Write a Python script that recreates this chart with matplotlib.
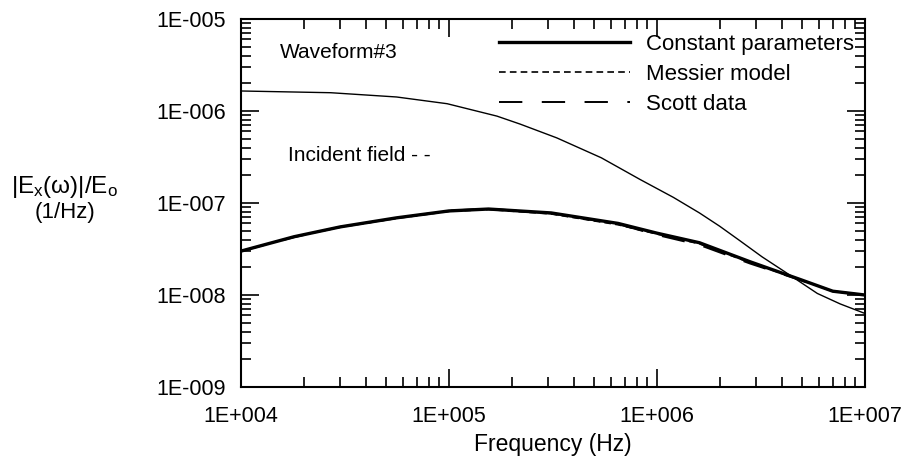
import matplotlib
matplotlib.use("Agg")
import matplotlib.pyplot as plt
from matplotlib.ticker import LogLocator, NullFormatter, FixedLocator

plt.rcParams["font.family"] = ["Liberation Sans", "DejaVu Sans"]
plt.rcParams["mathtext.fontset"] = "custom"
plt.rcParams["mathtext.rm"] = "Liberation Sans"

# frequencies (Hz) and spectra
freq = [1e4, 1.8e4, 3e4, 5.6e4, 1e5, 1.55e5, 3.1e5, 6.5e5, 1e6, 1.6e6, 2.8e6, 4.9e6, 7e6, 1e7]
constant = [3.0e-8, 4.3e-8, 5.5e-8, 6.9e-8, 8.2e-8, 8.6e-8, 7.8e-8, 6.0e-8, 4.7e-8, 3.7e-8, 2.3e-8, 1.47e-8, 1.1e-8, 1.0e-8]
messier = [3.0e-8, 4.3e-8, 5.45e-8, 6.8e-8, 8.1e-8, 8.5e-8, 7.6e-8, 5.8e-8, 4.6e-8, 3.6e-8, 2.25e-8, 1.46e-8, 1.1e-8, 1.0e-8]
scott = [3.0e-8, 4.25e-8, 5.5e-8, 6.85e-8, 8.25e-8, 8.7e-8, 7.7e-8, 5.9e-8, 4.5e-8, 3.5e-8, 2.2e-8, 1.45e-8, 1.1e-8, 1.0e-8]

freq_inc = [1e4, 2.7e4, 5.6e4, 9.8e4, 1.7e5, 2.2e5, 3.3e5, 5.4e5, 8.3e5, 1.2e6, 1.6e6,
            2.0e6, 2.5e6, 3.2e6, 4.1e6, 5.9e6, 7.6e6, 1e7]
incident = [1.65e-6, 1.58e-6, 1.42e-6, 1.2e-6, 8.8e-7, 7.2e-7, 5.1e-7, 3.1e-7, 1.8e-7, 1.15e-7, 7.8e-8,
            5.6e-8, 3.9e-8, 2.6e-8, 1.8e-8, 1.04e-8, 8.0e-9, 6.3e-9]

fig = plt.figure(figsize=(9.11, 4.62), dpi=100)
ax = fig.add_axes([0.2645, 0.1623, 0.6850, 0.7966])

ax.plot(freq_inc, incident, color="black", lw=1.0)
ax.plot(freq, constant, color="black", lw=2.4, label="Constant parameters")
ax.plot(freq, messier, color="black", lw=1.2, ls=(0, (4, 2.5)), label="Messier model")
ax.plot(freq, scott, color="black", lw=1.4, ls=(0, (12, 10)), label="Scott data")

ax.set_xscale("log")
ax.set_yscale("log")
ax.set_xlim(1e4, 1e7)
ax.set_ylim(1e-9, 1e-5)

ax.xaxis.set_major_locator(FixedLocator([1e4, 1e5, 1e6, 1e7]))
ax.yaxis.set_major_locator(FixedLocator([1e-9, 1e-8, 1e-7, 1e-6, 1e-5]))
ax.xaxis.set_minor_locator(LogLocator(base=10, subs=range(2, 10)))
ax.yaxis.set_minor_locator(LogLocator(base=10, subs=range(2, 10)))
ax.xaxis.set_minor_formatter(NullFormatter())
ax.yaxis.set_minor_formatter(NullFormatter())
ax.set_xticklabels(["1E+004", "1E+005", "1E+006", "1E+007"])
ax.set_yticklabels(["1E-009", "1E-008", "1E-007", "1E-006", "1E-005"])

ax.tick_params(which="both", direction="in", top=True, right=True, labelsize=15.5, width=1.2)
ax.tick_params(which="major", length=13)
ax.tick_params(which="minor", length=7)
ax.tick_params(axis="x", which="major", pad=14)
ax.tick_params(axis="y", which="major", pad=11)
for s in ax.spines.values():
    s.set_linewidth(1.5)

ax.set_xlabel("Frequency (Hz)", fontsize=16.5, labelpad=4)

fig.text(0.071, 0.595, r"$\mathrm{|E_x(\omega)|/E_o}$", fontsize=17.5, ha="center", va="center")
fig.text(0.071, 0.54, "(1/Hz)", fontsize=16, ha="center", va="center")

ax.text(0.062, 0.91, "Waveform#3", transform=ax.transAxes, fontsize=15, va="center")
ax.text(0.075, 0.63, "Incident field - -", transform=ax.transAxes, fontsize=15, va="center")

leg = ax.legend(loc="upper right", bbox_to_anchor=(1.0, 0.99), frameon=False, fontsize=16,
                handlelength=5.9, handletextpad=0.7, labelspacing=0.4, borderaxespad=0.1)

fig.savefig("out.png", dpi=100)
